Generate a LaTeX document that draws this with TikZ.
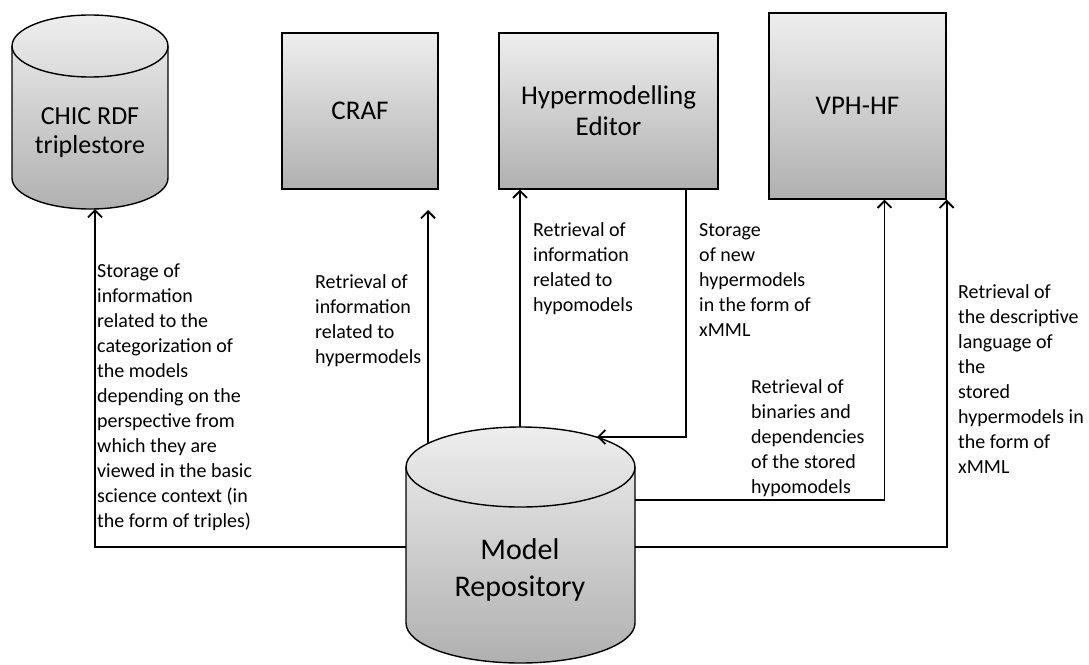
\documentclass[tikz,border=0pt]{standalone}
\usepackage{fontspec}
\setmainfont{Carlito}
\usetikzlibrary{arrows.meta}
\usetikzlibrary{positioning}

\definecolor{shadetop}{RGB}{238,238,238}
\definecolor{shadebot}{RGB}{176,176,176}

\tikzset{
    box/.style={draw, line width=1.4pt, top color=shadetop, bottom color=shadebot,
        inner sep=0pt, align=center, font=\fontsize{27}{31}\selectfont},
    drum/.style={draw, line width=1.4pt, top color=shadetop, bottom color=shadebot},
    link/.style={line width=1.9pt, -{Straight Barb[length=7pt,width=14pt,line width=1.8pt]}},
    note/.style={anchor=base west, inner sep=0pt, align=left, font=\fontsize{20}{25}\selectfont}
}

\begin{document}
\begin{tikzpicture}[x=1pt, y=1pt]
                \useasboundingbox (0,0) rectangle (1089,-664);

                % Triplestore drum
                \path[drum] (12,-46) -- (12,-178) arc[start angle=180, end angle=360, x radius=78, y radius=31]
                    -- (168,-46) arc[start angle=0, end angle=180, x radius=78, y radius=31] -- cycle;
                \draw[line width=1.4pt] (12,-46) arc[start angle=180, end angle=360, x radius=78, y radius=31];
                \node[font=\fontsize{26}{29}\selectfont, align=center] (chic) at (90,-133) {CHIC RDF\\triplestore};
                \coordinate (chicin) at (95,-209);

                % Repository drum
                \path[drum] (406,-467) -- (406,-623) arc[start angle=180, end angle=360, x radius=114.5, y radius=40]
                    -- (635,-467) arc[start angle=0, end angle=180, x radius=114.5, y radius=40] -- cycle;
                \draw[line width=1.4pt] (406,-467) arc[start angle=180, end angle=360, x radius=114.5, y radius=40];
                \node[font=\fontsize{30}{37}\selectfont, align=center] (repo) at (520,-570) {Model\\Repository};
                \coordinate (repoleft) at (406,-547);
                \coordinate (repotopa) at (428,-444);
                \coordinate (repotopb) at (520,-427);
                \coordinate (repoin) at (597,-437);
                \coordinate (reporighta) at (635,-500);
                \coordinate (reporightb) at (635,-547);

                % Boxes
                \node[box, minimum width=156, minimum height=156] (craf) at (360,-111) {CRAF};
                \node[box, minimum width=219, minimum height=156] (editor) at (608.5,-111) {Hypermodelling\\Editor};
                \node[box, minimum width=177, minimum height=186] (vph) at (857.5,-106) {VPH-HF};
                \coordinate (craftip) at (428,-210);

                % Links
                \draw[link] (repoleft) -| (chicin);
                \draw[link] (repotopa) -- (craftip);
                \draw[link] (repotopb) -- (repotopb |- editor.south);
                \draw[link] ([xshift=77.5]editor.south) |- (repoin);
                \draw[link] (reporighta) -| ([xshift=27]vph.south);
                \draw[link] (reporightb) -| (vph.south east);

                % Labels (base = last line)
                \node[note] (chicnote) at (97,-527) {Storage of\\information\\related to the\\categorization of\\the models\\depending on the\\perspective from\\which they are\\viewed in the basic\\science context (in\\the form of triples)};
                \node[note] (crafnote) at (315,-363) {Retrieval of\\information\\related to\\hypermodels};
                \node[note] (editnote) at (533,-311) {Retrieval of\\information\\related to\\hypomodels};
                \node[note] (storenote) at (699,-336) {Storage\\of new\\hypermodels\\in the form of\\xMML};
                \node[note] (binnote) at (751,-493) {Retrieval of\\binaries and\\dependencies\\of the stored\\hypomodels};
                \node[note] (langnote) at (958,-473) {Retrieval of\\the descriptive\\language of\\the\\stored\\hypermodels in\\the form of\\xMML};
            \end{tikzpicture}
\end{document}
